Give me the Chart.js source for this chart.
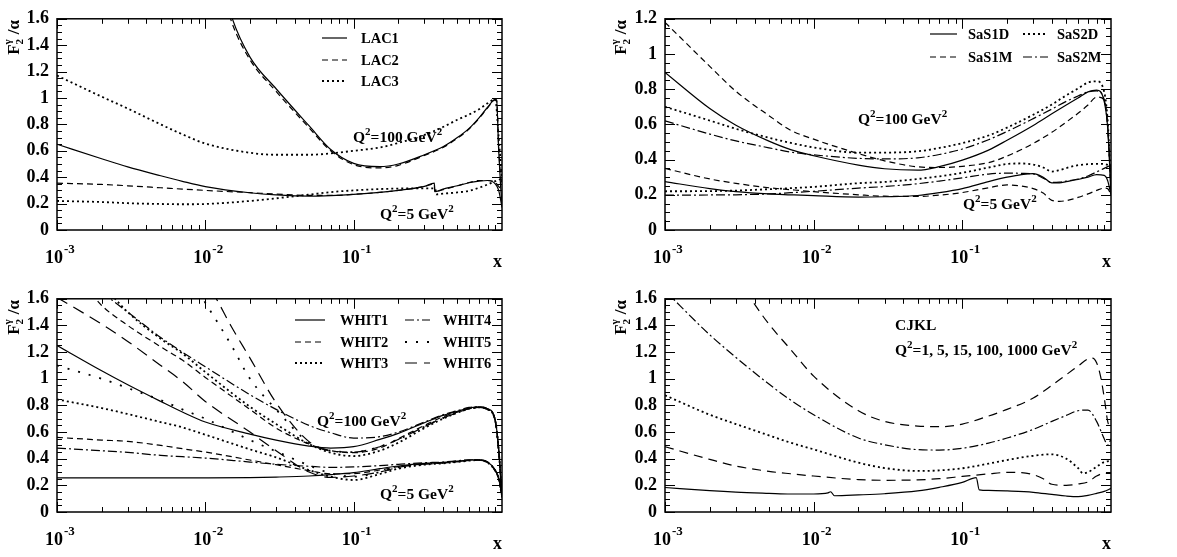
<!DOCTYPE html>
<html>
<head>
<meta charset="utf-8">
<script src="https://cdn.jsdelivr.net/npm/chart.js@4.4.1/dist/chart.umd.min.js"></script>
<style>
body { margin: 0; background: #fff; }
#wrap { position: relative; width: 1177px; height: 557px; }
canvas { position: absolute; }
</style>
</head>
<body>
<div id="wrap">
  <canvas id="lac" width="588" height="278" style="left:0px;top:0px"></canvas>
  <canvas id="sas" width="587" height="278" style="left:590px;top:0px"></canvas>
  <canvas id="whit" width="588" height="277" style="left:0px;top:280px"></canvas>
  <canvas id="cjkl" width="587" height="277" style="left:590px;top:280px"></canvas>
</div>
<script>
// x axis decade labels
const xTickValues = [0.001, 0.01, 0.1];
const xTickExp = ['-3', '-2', '-1'];

// common x grid
const G = [0.001, 0.002, 0.003, 0.005, 0.007, 0.01, 0.02, 0.03, 0.05, 0.07, 0.1, 0.15, 0.2, 0.3, 0.4, 0.5, 0.6, 0.7, 0.8, 0.9, 0.95, 1];

// --- LAC ---
const lacX100 = [0.014, 0.015, 0.02, 0.03, 0.05, 0.07, 0.1, 0.15, 0.2, 0.3, 0.4, 0.5, 0.6, 0.7, 0.8, 0.9, 0.92, 0.95, 0.98, 1];
const lac1Q100 = [1.75, 1.62, 1.31, 1.07, 0.79, 0.61, 0.505, 0.48, 0.50, 0.57, 0.63, 0.70, 0.77, 0.85, 0.93, 0.99, 0.985, 0.6, 0.32, 0.2];
const lac2Q100 = [1.70, 1.58, 1.29, 1.05, 0.775, 0.60, 0.495, 0.47, 0.49, 0.565, 0.625, 0.695, 0.765, 0.845, 0.925, 0.985, 0.98, 0.62, 0.4, 0.36];
const lac3Q100 = [1.17, 1.01, 0.92, 0.80, 0.725, 0.655, 0.585, 0.57, 0.57, 0.58, 0.60, 0.625, 0.66, 0.72, 0.78, 0.835, 0.875, 0.915, 0.96, 0.99, 0.7, 0.38];
const lacX5 = [0.001, 0.002, 0.003, 0.005, 0.007, 0.01, 0.02, 0.03, 0.05, 0.07, 0.1, 0.15, 0.2, 0.3, 0.35, 0.352, 0.4, 0.5, 0.6, 0.7, 0.8, 0.9, 0.95, 1];
const lac1Q5 = [0.65, 0.54, 0.478, 0.411, 0.369, 0.329, 0.282, 0.266, 0.257, 0.261, 0.27, 0.285, 0.30, 0.33, 0.355, 0.29, 0.31, 0.335, 0.358, 0.37, 0.375, 0.35, 0.30, 0.17];
const lac2Q5 = [0.355, 0.345, 0.335, 0.32, 0.31, 0.30, 0.283, 0.272, 0.262, 0.262, 0.27, 0.285, 0.30, 0.33, 0.35, 0.29, 0.305, 0.335, 0.36, 0.375, 0.375, 0.36, 0.33, 0.30];
const lac3X5 = [0.001, 0.002, 0.003, 0.005, 0.007, 0.01, 0.02, 0.03, 0.05, 0.07, 0.1, 0.15, 0.2, 0.3, 0.355, 0.36, 0.4, 0.5, 0.6, 0.7, 0.8, 0.9, 0.95, 1];
const lac3Q5 = [0.22, 0.212, 0.203, 0.197, 0.195, 0.197, 0.22, 0.24, 0.268, 0.287, 0.30, 0.31, 0.314, 0.315, 0.315, 0.27, 0.275, 0.285, 0.297, 0.32, 0.345, 0.37, 0.38, 0.39];

// --- SaS ---
const sas1dQ100 = [0.895, 0.69, 0.595, 0.505, 0.457, 0.422, 0.369, 0.348, 0.34, 0.36, 0.397, 0.454, 0.51, 0.594, 0.66, 0.71, 0.75, 0.785, 0.795, 0.73, 0.58, 0.2];
const sas1mQ100 = [1.18, 0.93, 0.788, 0.65, 0.567, 0.516, 0.434, 0.393, 0.359, 0.355, 0.362, 0.383, 0.42, 0.492, 0.555, 0.613, 0.663, 0.71, 0.755, 0.74, 0.6, 0.22];
const sas2dQ100 = [0.70, 0.622, 0.575, 0.524, 0.495, 0.469, 0.44, 0.44, 0.447, 0.466, 0.494, 0.537, 0.582, 0.655, 0.713, 0.765, 0.804, 0.838, 0.845, 0.785, 0.62, 0.25];
const sas2mQ100 = [0.62, 0.545, 0.506, 0.467, 0.443, 0.427, 0.407, 0.404, 0.41, 0.429, 0.46, 0.513, 0.56, 0.633, 0.687, 0.731, 0.761, 0.785, 0.79, 0.74, 0.58, 0.25];
const sasX5 = [0.001, 0.002, 0.003, 0.005, 0.007, 0.01, 0.02, 0.03, 0.05, 0.07, 0.1, 0.15, 0.2, 0.25, 0.3, 0.35, 0.4, 0.45, 0.5, 0.6, 0.7, 0.8, 0.9, 0.95, 1];
const sas1dQ5 = [0.275, 0.235, 0.218, 0.205, 0.20, 0.195, 0.187, 0.189, 0.196, 0.212, 0.235, 0.275, 0.30, 0.315, 0.32, 0.30, 0.268, 0.268, 0.275, 0.287, 0.30, 0.315, 0.31, 0.28, 0.2];
const sas1mQ5 = [0.35, 0.29, 0.265, 0.24, 0.229, 0.218, 0.20, 0.192, 0.191, 0.198, 0.213, 0.24, 0.256, 0.25, 0.235, 0.21, 0.168, 0.163, 0.167, 0.185, 0.205, 0.225, 0.238, 0.235, 0.2];
const sas2dQ5 = [0.22, 0.221, 0.224, 0.232, 0.238, 0.245, 0.266, 0.273, 0.29, 0.305, 0.325, 0.355, 0.375, 0.378, 0.372, 0.355, 0.332, 0.34, 0.352, 0.368, 0.374, 0.376, 0.375, 0.37, 0.36];
const sas2mQ5 = [0.198, 0.199, 0.20, 0.205, 0.212, 0.22, 0.238, 0.247, 0.263, 0.278, 0.296, 0.318, 0.323, 0.322, 0.318, 0.295, 0.27, 0.272, 0.278, 0.29, 0.307, 0.33, 0.35, 0.36, 0.37];

// --- WHIT ---
const whit1Q100 = [1.25, 1.06, 0.955, 0.83, 0.75, 0.675, 0.585, 0.54, 0.495, 0.48, 0.49, 0.545, 0.59, 0.67, 0.725, 0.755, 0.78, 0.79, 0.775, 0.69, 0.47, 0.11];
const whit2X100 = [0.0017, 0.002, 0.003, 0.005, 0.007, 0.01, 0.02, 0.03, 0.05, 0.07, 0.1, 0.15, 0.2, 0.3, 0.4, 0.5, 0.6, 0.7, 0.8, 0.9, 0.95, 1];
const whit2Q100 = [1.64, 1.55, 1.40, 1.24, 1.14, 1.01, 0.77, 0.63, 0.51, 0.46, 0.445, 0.48, 0.55, 0.65, 0.715, 0.75, 0.775, 0.785, 0.77, 0.685, 0.46, 0.11];
const whit3X100 = [0.0022, 0.003, 0.005, 0.007, 0.01, 0.02, 0.03, 0.05, 0.07, 0.1, 0.15, 0.2, 0.3, 0.4, 0.5, 0.6, 0.7, 0.8, 0.9, 0.95, 1];
const whit3Q100 = [1.66, 1.50, 1.30, 1.19, 1.05, 0.79, 0.66, 0.51, 0.445, 0.42, 0.46, 0.52, 0.63, 0.70, 0.745, 0.775, 0.785, 0.77, 0.685, 0.46, 0.11];
const whit4X100 = [0.002, 0.003, 0.005, 0.007, 0.01, 0.02, 0.03, 0.05, 0.07, 0.1, 0.15, 0.2, 0.3, 0.4, 0.5, 0.6, 0.7, 0.8, 0.9, 0.95, 1];
const whit4Q100 = [1.65, 1.50, 1.31, 1.20, 1.09, 0.88, 0.77, 0.65, 0.595, 0.555, 0.565, 0.60, 0.675, 0.73, 0.76, 0.785, 0.79, 0.775, 0.69, 0.47, 0.11];
const whit5X100 = [0.009, 0.01, 0.015, 0.02, 0.03, 0.05, 0.07, 0.1, 0.15, 0.2, 0.3, 0.4, 0.5, 0.6, 0.7, 0.8, 0.9, 0.95, 1];
const whit5Q100 = [1.65, 1.57, 1.25, 1.0, 0.77, 0.52, 0.46, 0.45, 0.49, 0.545, 0.64, 0.705, 0.745, 0.775, 0.785, 0.77, 0.685, 0.46, 0.11];
const whit6X100 = [0.011, 0.012, 0.015, 0.02, 0.03, 0.05, 0.07, 0.1, 0.15, 0.2, 0.3, 0.4, 0.5, 0.6, 0.7, 0.8, 0.9, 0.95, 1];
const whit6Q100 = [1.66, 1.59, 1.39, 1.155, 0.82, 0.528, 0.458, 0.45, 0.49, 0.545, 0.64, 0.705, 0.745, 0.775, 0.785, 0.77, 0.685, 0.46, 0.11];
const whit1Q5 = [0.256, 0.256, 0.256, 0.256, 0.256, 0.256, 0.258, 0.262, 0.27, 0.28, 0.295, 0.325, 0.345, 0.365, 0.372, 0.382, 0.39, 0.392, 0.375, 0.315, 0.25, 0.12];
const whit2Q5 = [0.56, 0.54, 0.53, 0.50, 0.475, 0.45, 0.39, 0.355, 0.31, 0.287, 0.288, 0.315, 0.34, 0.36, 0.368, 0.378, 0.388, 0.39, 0.372, 0.31, 0.25, 0.12];
const whit3Q5 = [0.845, 0.78, 0.735, 0.675, 0.635, 0.58, 0.47, 0.41, 0.315, 0.265, 0.24, 0.285, 0.325, 0.355, 0.365, 0.375, 0.385, 0.39, 0.37, 0.31, 0.25, 0.12];
const whit4Q5 = [0.48, 0.46, 0.447, 0.425, 0.415, 0.405, 0.375, 0.358, 0.343, 0.335, 0.338, 0.348, 0.358, 0.37, 0.375, 0.385, 0.392, 0.392, 0.375, 0.315, 0.25, 0.12];
const whit5Q5 = [1.10, 1.0, 0.93, 0.84, 0.77, 0.70, 0.54, 0.455, 0.35, 0.29, 0.265, 0.30, 0.335, 0.36, 0.368, 0.378, 0.388, 0.39, 0.372, 0.31, 0.25, 0.12];
const whit6Q5 = [1.61, 1.41, 1.28, 1.10, 0.98, 0.83, 0.60, 0.46, 0.30, 0.26, 0.27, 0.30, 0.335, 0.36, 0.368, 0.378, 0.388, 0.39, 0.372, 0.31, 0.25, 0.12];

// --- CJKL ---
const cjX1 = [0.001, 0.002, 0.003, 0.005, 0.007, 0.01, 0.0125, 0.013, 0.0138, 0.02, 0.03, 0.05, 0.07, 0.1, 0.124, 0.13, 0.15, 0.2, 0.3, 0.4, 0.5, 0.6, 0.7, 0.8, 0.9, 1];
const cjQ1 = [0.184, 0.16, 0.149, 0.14, 0.135, 0.135, 0.143, 0.152, 0.122, 0.128, 0.137, 0.158, 0.185, 0.222, 0.258, 0.166, 0.162, 0.158, 0.148, 0.132, 0.12, 0.115, 0.125, 0.14, 0.155, 0.177];
const cjX5 = [0.001, 0.002, 0.003, 0.005, 0.007, 0.01, 0.02, 0.03, 0.05, 0.07, 0.1, 0.15, 0.2, 0.25, 0.3, 0.35, 0.4, 0.5, 0.6, 0.7, 0.8, 0.9, 1];
const cjQ5 = [0.49, 0.395, 0.345, 0.305, 0.287, 0.27, 0.243, 0.238, 0.241, 0.25, 0.267, 0.286, 0.297, 0.295, 0.28, 0.25, 0.208, 0.20, 0.21, 0.225, 0.27, 0.29, 0.29];
const cjX15 = [0.001, 0.002, 0.003, 0.005, 0.007, 0.01, 0.02, 0.03, 0.05, 0.07, 0.1, 0.15, 0.2, 0.3, 0.4, 0.5, 0.6, 0.65, 0.7, 0.8, 0.9, 1];
const cjQ15 = [0.876, 0.73, 0.66, 0.575, 0.52, 0.47, 0.37, 0.33, 0.308, 0.312, 0.328, 0.363, 0.39, 0.422, 0.433, 0.40, 0.33, 0.29, 0.298, 0.34, 0.375, 0.385];
const cjQ100 = [1.66, 1.33, 1.16, 0.96, 0.84, 0.73, 0.555, 0.505, 0.468, 0.465, 0.478, 0.517, 0.555, 0.62, 0.68, 0.725, 0.76, 0.765, 0.68, 0.55, 0.5, 0.55];
const cjX1000 = [0.0035, 0.004, 0.005, 0.007, 0.01, 0.02, 0.03, 0.05, 0.07, 0.1, 0.15, 0.2, 0.3, 0.4, 0.5, 0.6, 0.7, 0.75, 0.8, 0.85, 0.9, 0.95, 1];
const cjQ1000 = [1.66, 1.56, 1.41, 1.22, 1.02, 0.76, 0.68, 0.645, 0.64, 0.66, 0.72, 0.77, 0.855, 0.95, 1.03, 1.095, 1.15, 1.155, 1.12, 1.02, 0.86, 0.68, 0.62];

// line styles
const SOLID = [];
const DASH = [6, 4];
const DOT = [2, 3];
const DASHDOT = [9, 3, 2, 3];
const SPARSE = [2, 9];
const LONGDASH = [12, 7];
const CJDASH = [9, 6];

const FAMILY = '"Liberation Serif", "Times New Roman", serif';
function font(size) { return 'bold ' + size + 'px ' + FAMILY; }

function curve(xs, ys, dash) {
    const dotted = dash === DOT || dash === SPARSE;
    return {
        data: xs.map((x, i) => ({ x: x, y: ys[i] })),
        borderColor: '#000',
        borderWidth: dotted ? 1.8 : 1.2,
        borderDash: dash,
        pointRadius: 0,
        fill: false,
        cubicInterpolationMode: 'monotone'
    };
}

// draws text pieces one after another: [text, size, rise]
function rich(ctx, x, y, parts) {
    let cx = x;
    parts.forEach(p => {
        ctx.font = font(p[1]);
        ctx.fillText(p[0], cx, y - (p[2] || 0));
        cx += ctx.measureText(p[0]).width;
    });
}

const q2 = v => [['Q', 15.5, 0], ['2', 11, 7], ['=' + v + ' GeV', 15.5, 0], ['2', 11, 7]];

const deco = {
    id: 'deco',
    afterDatasetsDraw(chart, args, o) {
        const ctx = chart.ctx;
        const a = chart.chartArea;
        const xs = chart.scales.x;
        const ys = chart.scales.y;
        ctx.save();
        ctx.strokeStyle = '#000';
        ctx.fillStyle = '#000';
        ctx.setLineDash([]);

        // frame
        ctx.lineWidth = 1.5;
        ctx.strokeRect(a.left, a.top, a.right - a.left, a.bottom - a.top);

        // ticks, inside the frame on all four sides
        ctx.lineWidth = 1;
        ctx.beginPath();
        for (let d = -3; d < 0; d++) {
            for (let k = 1; k <= 9; k++) {
                const px = Math.round(xs.getPixelForValue(k * Math.pow(10, d))) + 0.5;
                const len = k === 1 ? 10 : 5;
                ctx.moveTo(px, a.bottom); ctx.lineTo(px, a.bottom - len);
                ctx.moveTo(px, a.top); ctx.lineTo(px, a.top + len);
            }
        }
        const n = Math.round(o.ymax / 0.05);
        for (let i = 0; i <= n; i++) {
            const py = Math.round(ys.getPixelForValue(i * 0.05)) + 0.5;
            const len = i % 4 === 0 ? 10 : 5;
            ctx.moveTo(a.left, py); ctx.lineTo(a.left + len, py);
            ctx.moveTo(a.right, py); ctx.lineTo(a.right - len, py);
        }
        ctx.stroke();

        // x tick labels 10^n
        ctx.textBaseline = 'alphabetic';
        xTickValues.forEach((v, i) => {
            const px = xs.getPixelForValue(v) - 3;
            ctx.font = font(18);
            const w = ctx.measureText('10').width;
            ctx.textAlign = 'left';
            ctx.fillText('10', px - w / 2, a.bottom + 33);
            ctx.font = font(13);
            ctx.fillText(xTickExp[i], px + w / 2 + 1, a.bottom + 23);
        });
        ctx.font = font(18);
        ctx.textAlign = 'right';
        ctx.fillText('x', a.right, a.bottom + 37);

        // y title F2^gamma / alpha, rotated
        ctx.save();
        ctx.translate(o.titleX, a.top + 36);
        ctx.rotate(-Math.PI / 2);
        ctx.textAlign = 'left';
        ctx.font = font(17);
        ctx.fillText('F', 0, 0);
        const wf = ctx.measureText('F').width;
        ctx.font = font(11);
        ctx.fillText('2', wf, 4);
        ctx.fillText('γ', wf, -8);
        ctx.font = font(17);
        ctx.fillText(' /α', wf + 6, 0);
        ctx.restore();

        // legend
        ctx.textAlign = 'left';
        (o.legend || []).forEach(it => {
            ctx.lineWidth = (it.dash === DOT || it.dash === SPARSE) ? 1.8 : 1.2;
            ctx.setLineDash(it.dash);
            ctx.beginPath();
            ctx.moveTo(it.x1, it.y); ctx.lineTo(it.x2, it.y);
            ctx.stroke();
            ctx.setLineDash([]);
            ctx.font = font(14.5);
            ctx.textBaseline = 'middle';
            ctx.fillText(it.label, it.tx, it.y + 1);
        });

        // annotations
        ctx.textBaseline = 'alphabetic';
        (o.notes || []).forEach(nt => rich(ctx, nt.x, nt.y, nt.parts));
        ctx.restore();
    }
};

function makePanel(id, datasets, p) {
    return new Chart(document.getElementById(id), {
        type: 'line',
        data: { datasets: datasets },
        options: {
            responsive: false,
            animation: false,
            events: [],
            layout: { padding: p.pad },
            plugins: {
                legend: { display: false },
                tooltip: { enabled: false },
                deco: p.deco
            },
            scales: {
                x: { type: 'logarithmic', min: 0.001, max: 1, display: false },
                y: {
                    type: 'linear', min: 0, max: p.deco.ymax,
                    ticks: {
                        stepSize: 0.2, padding: 8, color: '#000',
                        font: { family: FAMILY, weight: 'bold', size: 18 },
                        callback: v => String(Number(v.toFixed(1)))
                    },
                    grid: { display: false, drawTicks: false },
                    border: { display: false },
                    afterFit: s => { s.width = p.yw; }
                }
            }
        },
        plugins: [deco]
    });
}

makePanel('lac', [
    curve(lacX100, lac1Q100, SOLID),
    curve(lacX100, lac2Q100, DASH),
    curve(G, lac3Q100, DOT),
    curve(lacX5, lac1Q5, SOLID),
    curve(lacX5, lac2Q5, DASH),
    curve(lac3X5, lac3Q5, DOT)
], {
    yw: 57, pad: { top: 12, right: 86, bottom: 48, left: 0 },
    deco: {
        ymax: 1.6, titleX: 19,
        legend: [
            { x1: 322, x2: 347, tx: 361, y: 38, dash: SOLID, label: 'LAC1' },
            { x1: 322, x2: 347, tx: 361, y: 60, dash: DASH, label: 'LAC2' },
            { x1: 322, x2: 347, tx: 361, y: 81, dash: DOT, label: 'LAC3' }
        ],
        notes: [
            { x: 353, y: 142, parts: q2('100') },
            { x: 380, y: 219, parts: q2('5') }
        ]
    }
});

makePanel('sas', [
    curve(G, sas1dQ100, SOLID),
    curve(G, sas1mQ100, DASH),
    curve(G, sas2dQ100, DOT),
    curve(G, sas2mQ100, DASHDOT),
    curve(sasX5, sas1dQ5, SOLID),
    curve(sasX5, sas1mQ5, DASH),
    curve(sasX5, sas2dQ5, DOT),
    curve(sasX5, sas2mQ5, DASHDOT)
], {
    yw: 75, pad: { top: 12, right: 66, bottom: 48, left: 0 },
    deco: {
        ymax: 1.2, titleX: 36,
        legend: [
            { x1: 340, x2: 367, tx: 378, y: 34, dash: SOLID, label: 'SaS1D' },
            { x1: 340, x2: 367, tx: 378, y: 57, dash: DASH, label: 'SaS1M' },
            { x1: 433, x2: 458, tx: 467, y: 34, dash: DOT, label: 'SaS2D' },
            { x1: 433, x2: 458, tx: 467, y: 57, dash: DASHDOT, label: 'SaS2M' }
        ],
        notes: [
            { x: 268, y: 124, parts: q2('100') },
            { x: 373, y: 209, parts: q2('5') }
        ]
    }
});

makePanel('whit', [
    curve(G, whit1Q100, SOLID),
    curve(whit2X100, whit2Q100, DASH),
    curve(whit3X100, whit3Q100, DOT),
    curve(whit4X100, whit4Q100, DASHDOT),
    curve(whit5X100, whit5Q100, SPARSE),
    curve(whit6X100, whit6Q100, LONGDASH),
    curve(G, whit1Q5, SOLID),
    curve(G, whit2Q5, DASH),
    curve(G, whit3Q5, DOT),
    curve(G, whit4Q5, DASHDOT),
    curve(G, whit5Q5, SPARSE),
    curve(G, whit6Q5, LONGDASH)
], {
    yw: 57, pad: { top: 13, right: 86, bottom: 45, left: 0 },
    deco: {
        ymax: 1.6, titleX: 19,
        legend: [
            { x1: 295, x2: 325, tx: 340, y: 40, dash: SOLID, label: 'WHIT1' },
            { x1: 295, x2: 325, tx: 340, y: 62, dash: DASH, label: 'WHIT2' },
            { x1: 295, x2: 325, tx: 340, y: 83, dash: DOT, label: 'WHIT3' },
            { x1: 405, x2: 430, tx: 443, y: 40, dash: DASHDOT, label: 'WHIT4' },
            { x1: 405, x2: 430, tx: 443, y: 62, dash: SPARSE, label: 'WHIT5' },
            { x1: 405, x2: 430, tx: 443, y: 83, dash: LONGDASH, label: 'WHIT6' }
        ],
        notes: [
            { x: 317, y: 146, parts: q2('100') },
            { x: 380, y: 219, parts: q2('5') }
        ]
    }
});

makePanel('cjkl', [
    curve(cjX1, cjQ1, SOLID),
    curve(cjX5, cjQ5, CJDASH),
    curve(cjX15, cjQ15, DOT),
    curve(G, cjQ100, DASHDOT),
    curve(cjX1000, cjQ1000, CJDASH)
], {
    yw: 75, pad: { top: 13, right: 66, bottom: 45, left: 0 },
    deco: {
        ymax: 1.6, titleX: 36,
        notes: [
            { x: 305, y: 50, parts: [['CJKL', 15.5, 0]] },
            { x: 305, y: 75, parts: [['Q', 15.5, 0], ['2', 11, 7], ['=1, 5, 15, 100, 1000 GeV', 15.5, 0], ['2', 11, 7]] }
        ]
    }
});
</script>
</body>
</html>
